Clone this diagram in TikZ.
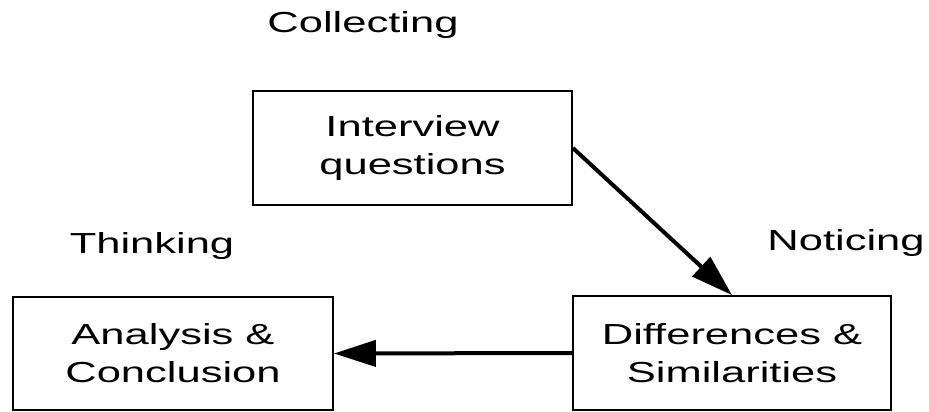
\documentclass[tikz,border=0pt]{standalone}
\usepackage{fontspec}
\setmainfont{Liberation Sans}[FakeStretch=1.5]
\usetikzlibrary{arrows.meta,positioning}

\begin{document}
\begin{tikzpicture}[
        x = 1pt,
        y = -1pt,
        stagebox/.style = {draw, line width = 1.8pt, rectangle, align = center,
            font = \fontsize{29}{38}\selectfont, inner sep = 0pt},
        phase/.style = {anchor = base, font = \fontsize{29}{38}\selectfont},
        flow/.style = {line width = 4pt,
            -{Triangle[length = 42pt, width = 26pt]}}
        ]
        \useasboundingbox (0, 0) rectangle (929, 412);
        \node[stagebox, minimum width = 319pt, minimum height = 114pt]
            (interview) at (412.5, 148) {Interview\\questions};
        \node[stagebox, minimum width = 318pt, minimum height = 114pt]
            (differences) at (732, 353) {Differences \&\\Similarities};
        \node[stagebox, minimum width = 320pt, minimum height = 113pt]
            (analysis) at (173, 353.5) {Analysis \&\\Conclusion};
        \node[phase] (collecting) at (363, 33) {Collecting};
        \node[phase] (thinking) at (152, 253) {Thinking};
        \node[phase] (noticing) at (846, 250) {Noticing};
        \draw[flow] (interview.east) -- (differences.north);
        \draw[flow] (differences.west) -- (analysis.east);
    \end{tikzpicture}
\end{document}
